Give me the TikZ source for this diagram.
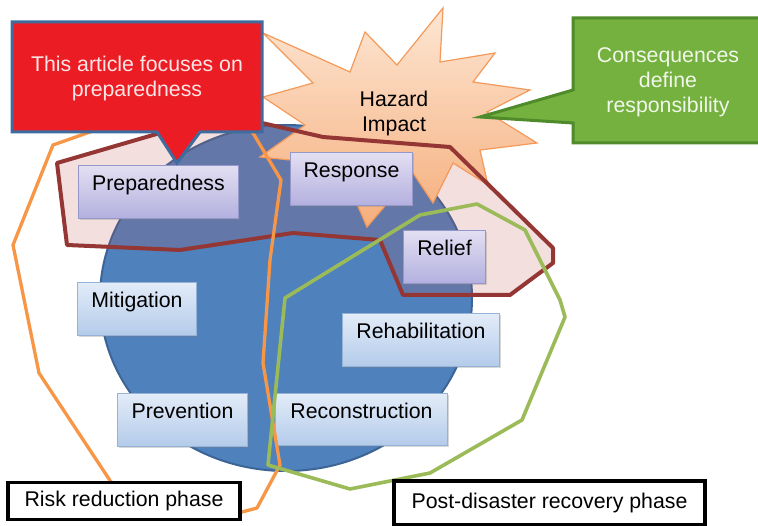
\documentclass[tikz,border=0pt]{standalone}
\usepackage{fontspec}
\setmainfont{Liberation Sans}
\usetikzlibrary{shadows}
\definecolor{circfill}{HTML}{4F81BD}
\definecolor{circdraw}{HTML}{3C6496}
\definecolor{brownln}{HTML}{943634}
\definecolor{brownfill}{HTML}{C0504D}
\definecolor{orangeln}{HTML}{F79646}
\definecolor{greenln}{HTML}{9BBB59}
\definecolor{burstdraw}{HTML}{F39A5A}
\definecolor{bursttop}{HTML}{FDE6D3}
\definecolor{burstbot}{HTML}{F5AE7C}
\definecolor{purpledraw}{HTML}{9497C9}
\definecolor{purpletop}{HTML}{E3DFF2}
\definecolor{purplebot}{HTML}{B3B0DF}
\definecolor{bluedraw}{HTML}{95B3D7}
\definecolor{bluetop}{HTML}{E3ECF8}
\definecolor{bluebot}{HTML}{B3CBEA}
\definecolor{redfill}{HTML}{EC1C24}
\definecolor{reddraw}{HTML}{3E6C9E}
\definecolor{redtext}{HTML}{FBE6E6}
\definecolor{grnfill}{HTML}{74B13E}
\definecolor{grndraw}{HTML}{4F8A2B}
\definecolor{grntext}{HTML}{F1F7EA}
\begin{document}
\begin{tikzpicture}[x=1pt,y=-1pt,font=\fontsize{21.3}{25}\selectfont,
  stepbox/.style={inner sep=0pt, anchor=north west, text height=25pt, text depth=28pt,
    line width=1pt, drop shadow={shadow xshift=1.5pt,shadow yshift=-1.5pt,opacity=0.3}},
  purplebox/.style={stepbox, draw=purpledraw, top color=purpletop, bottom color=purplebot},
  bluebox/.style={stepbox, draw=bluedraw, top color=bluetop, bottom color=bluebot},
  phasebox/.style={draw=black, line width=3.8pt, fill=white, inner sep=0pt},
  brownline/.style={draw=brownln, line width=4pt, line join=round},
  orangeline/.style={draw=orangeln, line width=3.3pt, line join=round},
  greenline/.style={draw=greenln, line width=3.6pt, line join=round},
]
\useasboundingbox (0,0) rectangle (758,526);
\fill[white] (0,0) rectangle (758,526);

% disaster cycle disc
\draw[fill=circfill, draw=circdraw, line width=2pt] (286,298) ellipse [x radius=186pt, y radius=173pt];

% preparedness / response / relief region (fill)
\fill[brownfill, fill opacity=0.18]
  (57,163) -- (160,133) -- (262,123) -- (323,137) -- (450,147) -- (553,248) -- (553,263)
  -- (510,295) -- (403,295) -- (380,240) -- (293,233) -- (180,250) -- (67,245) -- cycle;

% hazard impact starburst
\path[draw=burstdraw, line width=1.2pt, line join=miter, top color=bursttop, bottom color=burstbot]
  (263,33) -- (350,72) -- (365,32) -- (397,65) -- (443,8) -- (440,62) -- (495,53) -- (473,82)
  -- (530,90) -- (487,112) -- (537,143) -- (480,150) -- (488,185) -- (453,163) -- (433,203)
  -- (413,173) -- (367,227) -- (340,165) -- (260,157) -- (305,125) -- (263,97) -- (313,83) -- cycle;
\node[align=center, inner sep=0pt] (hazard) at (394,113) {Hazard\\Impact};

% phase boxes
\node[purplebox, minimum width=160pt] (prep) at (78,165) {Preparedness};
\node[purplebox, minimum width=122pt] (resp) at (290,152) {Response};
\node[purplebox, minimum width=82pt] (relief) at (403,230) {Relief};
\node[bluebox, minimum width=119pt] (mitig) at (77,282) {Mitigation};
\node[bluebox, minimum width=157pt] (rehab) at (342,313) {Rehabilitation};
\node[bluebox, minimum width=130pt] (prev) at (117,393) {Prevention};
\node[bluebox, minimum width=172pt, text depth=27pt] (recon) at (275,393) {Reconstruction};

% outlines
\draw[brownline]
  (57,163) -- (160,133) -- (262,123) -- (323,137) -- (450,147) -- (553,248) -- (553,263)
  -- (510,295) -- (403,295) -- (380,240) -- (293,233) -- (180,250) -- (67,245) -- cycle;
\draw[orangeline]
  (111,482) -- (39,373) -- (13,245) -- (53,145) -- (90,132) -- (110,124) -- (240,124)
  -- (253,133) -- (281,180) -- (270,260) -- (263,363) -- (280,465) -- (257,508) -- (242,512)
  -- (180,505) -- cycle;
\draw[greenline]
  (285,298) -- (420,215) -- (477,204) -- (525,230) -- (560,300) -- (565,317) -- (522,420)
  -- (430,473) -- (350,489) -- (268,465) -- cycle;

% callouts
\draw[fill=redfill, draw=reddraw, line width=3pt, line join=miter]
  (12,22) -- (262,22) -- (262,132) -- (200,132) -- (177,163) -- (157,132) -- (12,132) -- cycle;
\node[align=center, text=redtext, inner sep=0pt] (focus) at (137,78) {This article focuses on\\preparedness};

\draw[fill=grnfill, draw=grndraw, line width=3pt, line join=miter]
  (573,18) -- (764,18) -- (764,143) -- (573,143) -- (573,123) -- (480,117) -- (573,90) -- cycle;
\node[align=center, text=grntext, inner sep=0pt] (conseq) at (668,82) {Consequences\\define\\responsibility};

% phase labels
\node[phasebox, minimum width=232pt, minimum height=37pt] (risk) at (124,501) {Risk reduction phase};
\node[phasebox, minimum width=311pt, minimum height=44pt] (post) at (549.5,503) {Post-disaster recovery phase};
\end{tikzpicture}
\end{document}
